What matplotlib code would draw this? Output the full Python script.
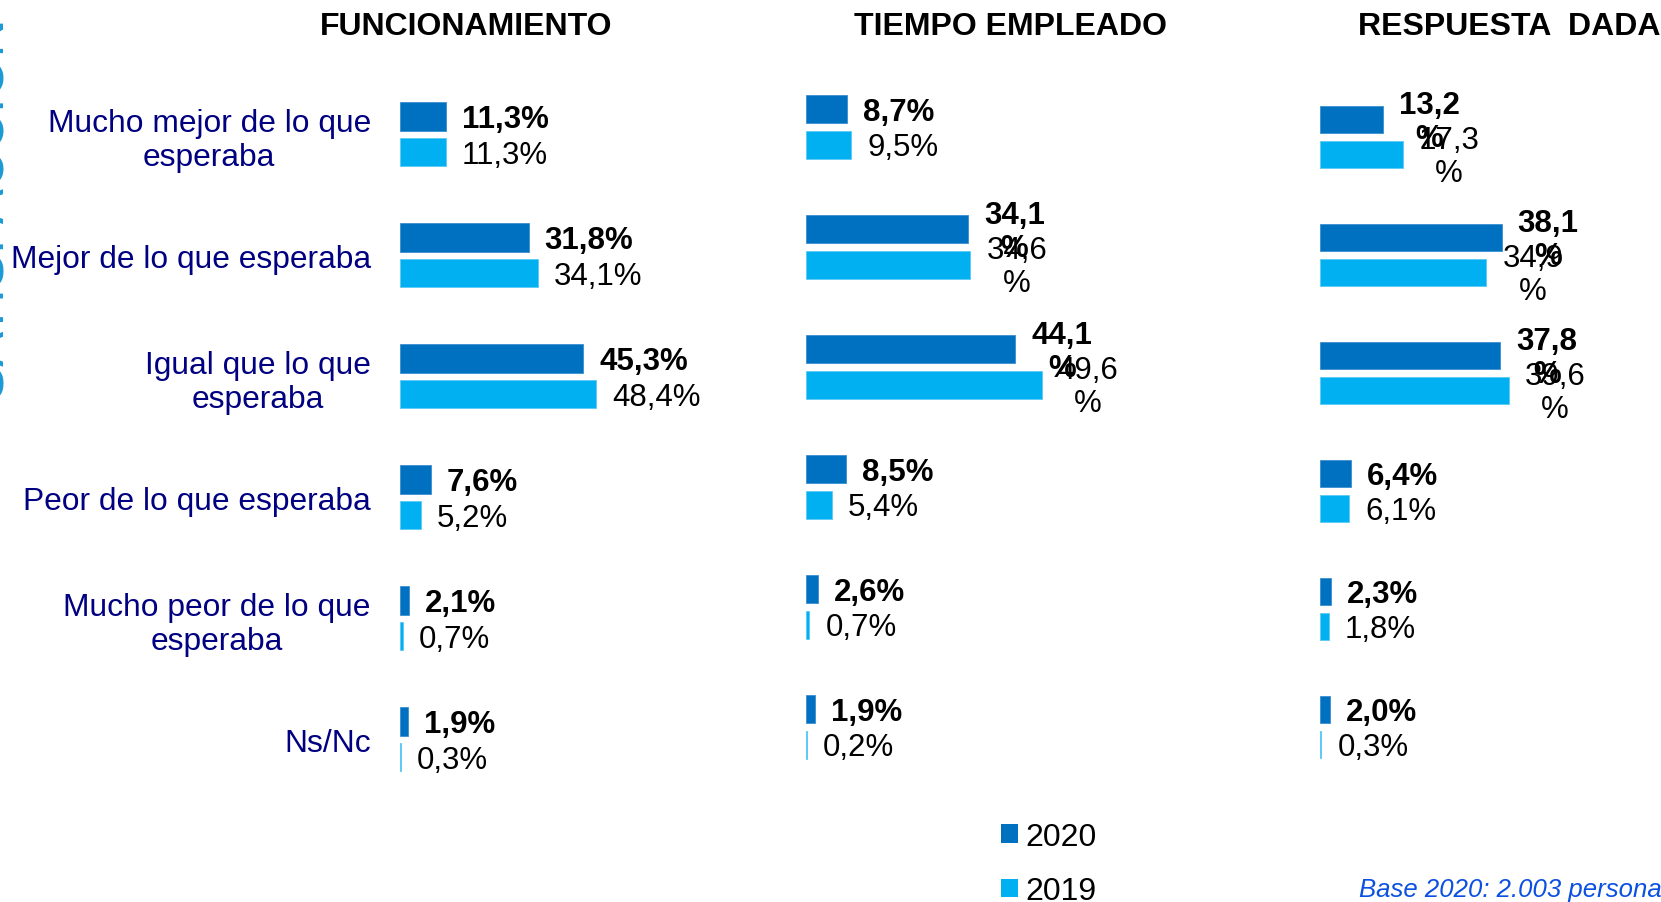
import matplotlib
matplotlib.use("Agg")
import matplotlib.pyplot as plt
import matplotlib.patches as mpatches

plt.rcParams["font.family"] = ["Liberation Sans", "DejaVu Sans"]

# ── Data ──────────────────────────────────────────────────────────────────────
CATEGORIES = [
    "Mucho mejor de lo que\nesperaba",
    "Mejor de lo que esperaba",
    "Igual que lo que\nesperaba",
    "Peor de lo que esperaba",
    "Mucho peor de lo que\nesperaba",
    "Ns/Nc",
]
PANELS = ["FUNCIONAMIENTO", "TIEMPO EMPLEADO", "RESPUESTA  DADA"]

func_2020 = [11.3, 31.8, 45.3, 7.6, 2.1, 1.9]
func_2019 = [11.3, 34.1, 48.4, 5.2, 0.7, 0.3]
tiempo_2020 = [8.7, 34.1, 44.1, 8.5, 2.6, 1.9]
tiempo_2019 = [9.5, 34.6, 49.6, 5.4, 0.7, 0.2]
resp_2020 = [13.2, 38.1, 37.8, 6.4, 2.3, 2.0]
resp_2019 = [17.3, 34.9, 39.6, 6.1, 1.8, 0.3]

YEARS = ["2020", "2019"]
FOOTNOTE = "Base 2020: 2.003 personas"

# ── Style ─────────────────────────────────────────────────────────────────────
C2020 = "#0070C0"
C2019 = "#00B0F0"
NAVY = "#000080"
W, H = 1661, 903
FS = 23

# panel geometry in pixels: left, top, bottom, width, px per percent
GEOM = [
    (400, 74.8, 800.8, 300, 4.05),
    (806, 68.0, 788.0, 380, 4.75),
    (1320, 79.0, 787.0, 335, 4.77),
]
WRAP_ABOVE = [None, 12, 12]
TITLE_X = [466, 1010, 1509]
BAR_H = 0.234
OFF = 0.147


def fmt(v):
    return f"{v:.1f}".replace(".", ",") + "%"


fig = plt.figure(figsize=(W / 100, H / 100), dpi=100)

data = [(func_2020, func_2019), (tiempo_2020, tiempo_2019), (resp_2020, resp_2019)]

for p, ((v20, v19), (left, top, bottom, width, scale)) in enumerate(zip(data, GEOM)):
    ax = fig.add_axes([left / W, 1 - bottom / H, width / W, (bottom - top) / H])
    ypos = list(range(len(CATEGORIES)))
    ax.barh([y - OFF for y in ypos], v20, height=BAR_H, color=C2020,
            edgecolor="#3b8fd0", linewidth=0.6)
    ax.barh([y + OFF for y in ypos], v19, height=BAR_H, color=C2019,
            edgecolor="#5cc9f5", linewidth=0.6)
    ax.set_xlim(0, width / scale)
    ax.set_ylim(len(CATEGORIES) - 0.5, -0.5)

    for vals, sign, weight in [(v20, -1, "bold"), (v19, 1, "normal")]:
        for y, v in zip(ypos, vals):
            txt = fmt(v)
            wrapped = WRAP_ABOVE[p] is not None and v > WRAP_ABOVE[p]
            if wrapped:
                txt = txt[:-1] + "\n%"
            ax.annotate(txt, xy=(v, y + sign * OFF),
                        xytext=(11.5, -1.5 if wrapped else -2),
                        textcoords="offset points", ha="left", va="center",
                        multialignment="center", linespacing=1.15,
                        fontsize=FS - 0.5, fontweight=weight, color="black")

    for s in ax.spines.values():
        s.set_visible(False)
    ax.set_xticks([])
    if p == 0:
        ax.set_yticks(ypos)
        ax.set_yticklabels(CATEGORIES, fontsize=FS - 0.1, color=NAVY)
        ax.tick_params(axis="y", length=0, pad=21)
        for lbl in ax.get_yticklabels():
            lbl.set_multialignment("center")
            lbl.set_linespacing(1.2)
    else:
        ax.set_yticks([])

    fig.text(TITLE_X[p] / W, 1 - 27 / H, PANELS[p], ha="center", va="center",
             fontsize=FS, fontweight="bold", color="black")

# legend
handles = [mpatches.Patch(facecolor=C2020, edgecolor="none"),
           mpatches.Patch(facecolor=C2019, edgecolor="none")]
fig.legend(handles, YEARS, loc="center left",
           bbox_to_anchor=(1000.5 / W, 1 - 865 / H), frameon=False,
           fontsize=FS, handlelength=0.55, handleheight=0.52,
           handletextpad=0.22, labelspacing=0.76, borderpad=0,
           borderaxespad=0)

# footnote
fig.text(1359 / W, 1 - 890 / H, FOOTNOTE, ha="left", va="center",
         fontsize=18.5, style="italic", color="#0B50E0")

# clipped decorative side title at the left edge
fig.text(1 / W, 1 - 207 / H, "SATISFACCIÓN", rotation=90,
         rotation_mode="anchor", ha="center", va="baseline",
         fontsize=38, color="#1A9AD6")

fig.savefig("out.png", dpi=100)
